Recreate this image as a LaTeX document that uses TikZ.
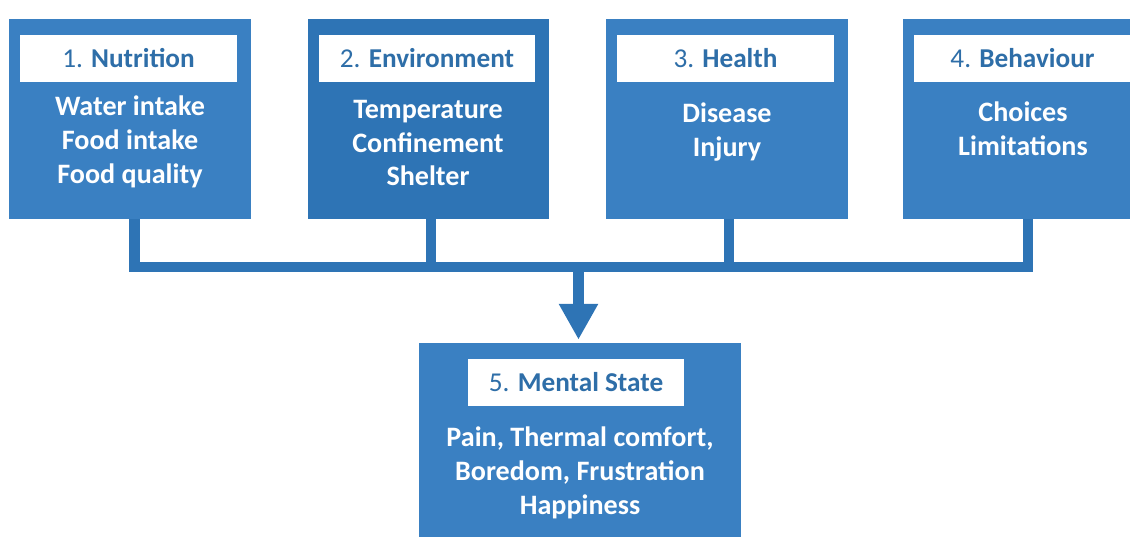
\documentclass[tikz,border=0pt]{standalone}
\usepackage{fontspec}
\setmainfont{Carlito}
\usetikzlibrary{arrows.meta}

\definecolor{boxblue}{RGB}{58,128,194}
\definecolor{boxdark}{RGB}{46,116,181}
\definecolor{headblue}{RGB}{46,110,168}

\begin{document}
\begin{tikzpicture}[
  x=0.02cm,
  y=-0.02cm,
  areabox/.style={rectangle,fill=boxblue,minimum width=4.84cm,minimum height=4cm,inner sep=0pt},
  header/.style={rectangle,fill=white,minimum width=4.34cm,minimum height=0.94cm,inner sep=0pt,text=headblue,font=\fontsize{15.5}{18}\selectfont},
  items/.style={align=center,text=white,font=\fontsize{16}{19.3}\selectfont\bfseries},
  link/.style={draw=boxdark,line width=6.2pt}
]

\clip (0,0) rectangle (1130,537);

% the four areas
\node[areabox] (nutr) at (130,119) {};
\node[areabox,fill=boxdark] (env) at (428.5,119) {};
\node[areabox] (health) at (727,119) {};
\node[areabox] (behav) at (1024,119) {};

\node[header] (nutrhead) at (128.5,58.5) {1. \textbf{Nutrition}};
\node[header] (envhead) at (427,58.5) {2. \textbf{Environment}};
\node[header] (healthhead) at (725.5,58.5) {3. \textbf{Health}};
\node[header] (behavhead) at (1022.5,58.5) {4. \textbf{Behaviour}};

\node[items] (nutritems) at (130,142) {Water intake\\Food intake\\Food quality};
\node[items] (envitems) at (428,143) {Temperature\\Confinement\\Shelter};
\node[items] (healthitems) at (727,132) {Disease\\Injury};
\node[items] (behavitems) at (1023,129) {Choices\\Limitations};

% the outcome
\node[areabox,minimum width=6.44cm,minimum height=3.94cm] (mental) at (580,441.5) {};
\node[header] (mentalhead) at (576,382.5) {5. \textbf{Mental State}};
\node[items] (mentalitems) at (580,473) {Pain, Thermal comfort,\\Boredom, Frustration\\Happiness};

% connectors
\coordinate (j1) at (134.5,267);
\coordinate (j2) at (431,267);
\coordinate (j3) at (729,267);
\coordinate (j4) at (1028,267);
\coordinate (j5) at (578.5,267);

\draw[link] (nutr.south -| j1) -- (j1) -- (j4) -- (behav.south -| j4);
\draw[link] (env.south -| j2) -- (j2);
\draw[link] (health.south -| j3) -- (j3);
\draw[link,-{Triangle[width=21pt,length=20.4pt]},shorten >=1.7pt] (j5) -- (mental.north -| j5);

\end{tikzpicture}
\end{document}
